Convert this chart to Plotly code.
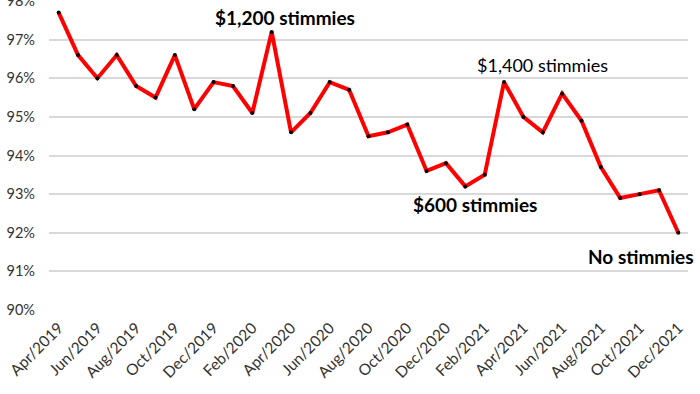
import plotly.graph_objects as go

months = ["Apr/2019","May/2019","Jun/2019","Jul/2019","Aug/2019","Sep/2019","Oct/2019","Nov/2019","Dec/2019",
          "Jan/2020","Feb/2020","Mar/2020","Apr/2020","May/2020","Jun/2020","Jul/2020","Aug/2020","Sep/2020",
          "Oct/2020","Nov/2020","Dec/2020","Jan/2021","Feb/2021","Mar/2021","Apr/2021","May/2021","Jun/2021",
          "Jul/2021","Aug/2021","Sep/2021","Oct/2021","Nov/2021","Dec/2021"]
values = [97.7, 96.6, 96.0, 96.6, 95.8, 95.5, 96.6, 95.2, 95.9,
          95.8, 95.1, 97.2, 94.6, 95.1, 95.9, 95.7, 94.5, 94.6,
          94.8, 93.6, 93.8, 93.2, 93.5, 95.9, 95.0, 94.6, 95.6,
          94.9, 93.7, 92.9, 93.0, 93.1, 92.0]
tick_labels = months[::2]
y_ticks = [90, 91, 92, 93, 94, 95, 96, 97, 98]
notes = [("$1,200 stimmies", 11.7, 97.56, True),
         ("$1,400 stimmies", 25.0, 96.34, False),
         ("$600 stimmies", 21.5, 92.72, True),
         ("No stimmies", 30.05, 91.38, True)]

fig = go.Figure()
fig.add_trace(go.Scatter(
    x=months, y=values, mode="lines+markers",
    line=dict(color="#ff0000", width=4),
    marker=dict(color="black", size=4),
    cliponaxis=False,
))
for text, x, y, bold in notes:
    fig.add_annotation(x=x, y=y, text=f"<b>{text}</b>" if bold else text, showarrow=False,
                       font=dict(family="Lato", size=19 if bold else 18, color="black"),
                       xanchor="center", yanchor="middle")

fig.update_layout(
    width=700, height=394,
    margin=dict(l=49, r=12, t=1, b=84),
    paper_bgcolor="white", plot_bgcolor="white",
    showlegend=False,
    font=dict(family="Lato", size=14, color="#333333"),
)
fig.update_xaxes(type="category", range=[-0.5, 32.5], tickvals=tick_labels, ticktext=tick_labels,
                 tickangle=-45, showgrid=False, showline=False, zeroline=False, ticks="",
                 automargin=False, ticklabelstandoff=5,
                 tickfont=dict(family="Lato", size=15.5, color="#333333"))
fig.update_yaxes(range=[90, 98], tickvals=y_ticks, ticktext=[f"{v}%" for v in y_ticks],
                 showgrid=True, gridcolor="#d9d9d9", gridwidth=1.5, zeroline=False, showline=False,
                 ticks="", automargin=False, ticklabelstandoff=13, ticklabeloverflow="allow",
                 tickfont=dict(family="Lato", size=14.5, color="#333333"))

fig.write_html("out.html", config={"displayModeBar": False},
               post_script="document.body.style.margin='0';document.body.style.overflow='hidden';")
